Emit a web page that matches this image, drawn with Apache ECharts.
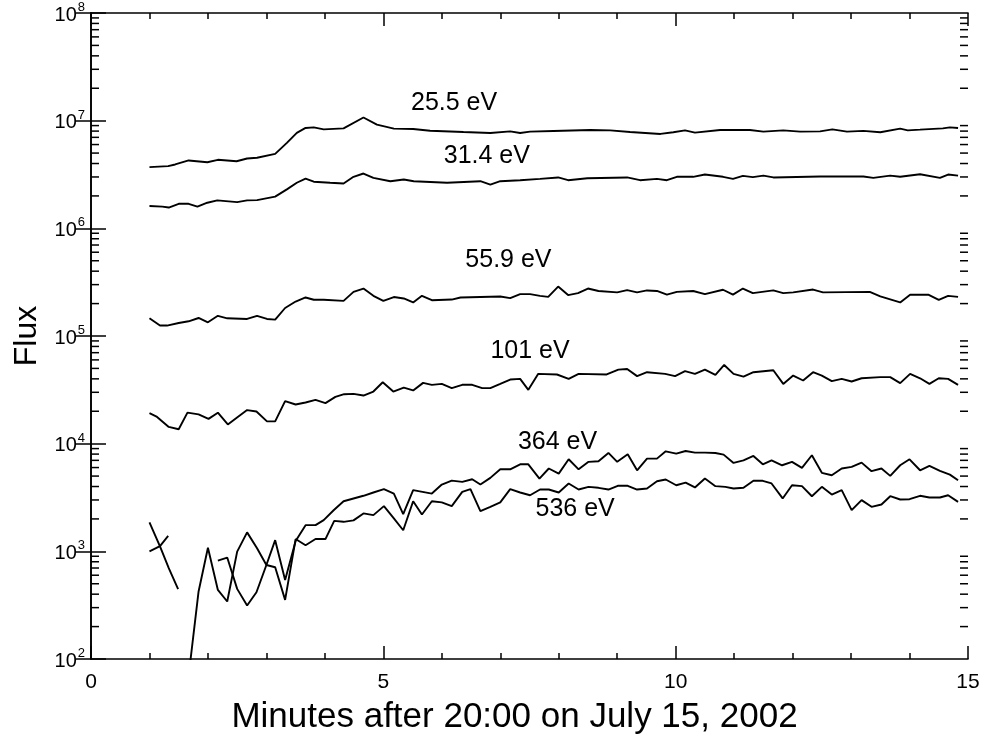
<!DOCTYPE html>
<html>
<head>
<meta charset="utf-8">
<script src="https://cdn.jsdelivr.net/npm/echarts@6/dist/echarts.min.js"></script>
<style>
html,body{margin:0;padding:0;background:#fff;}
#chart{width:984px;height:740px;}
</style>
</head>
<body>
<div id="chart"></div>
<script>
// Energy channels (labels) and their annotation anchors [minutes, flux]
const channelNames = ['25.5 eV', '31.4 eV', '55.9 eV', '101 eV', '364 eV', '536 eV'];
const labelAnchors = [[6.21, 1.47e7], [6.77, 4.67e6], [7.14, 5.08e5], [7.51, 7.21e4], [7.98, 1.04e4], [8.28, 2.47e3]];

// x tick labels / y decades
const xTicks = [0, 5, 10, 15];
const yDecades = [2, 3, 4, 5, 6, 7, 8];

// Series: [minutes after 20:00, flux]
const s25_5 = [[1.00,3.70e6],[1.32,3.78e6],[1.44,3.92e6],[1.67,4.27e6],[1.99,4.11e6],[2.17,4.33e6],[2.49,4.20e6],[2.67,4.45e6],[2.84,4.52e6],[3.15,4.92e6],[3.35,6.22e6],[3.52,7.70e6],[3.67,8.56e6],[3.81,8.67e6],[3.98,8.30e6],[4.32,8.48e6],[4.66,1.07e7],[4.89,9.19e6],[5.18,8.44e6],[5.51,8.38e6],[5.80,8.07e6],[6.37,7.85e6],[6.83,7.69e6],[7.17,7.96e6],[7.34,7.69e6],[7.51,7.91e6],[7.91,8.03e6],[8.54,8.20e6],[8.88,8.13e6],[9.22,7.85e6],[9.74,7.53e6],[9.96,7.80e6],[10.16,8.13e6],[10.33,7.74e6],[10.76,8.20e6],[11.27,8.20e6],[11.50,7.91e6],[11.84,8.13e6],[12.13,7.91e6],[12.47,7.96e6],[12.68,8.30e6],[12.93,7.91e6],[13.21,8.03e6],[13.50,7.80e6],[13.84,8.44e6],[13.97,8.13e6],[14.18,8.25e6],[14.57,8.48e6],[14.69,8.67e6],[14.83,8.56e6]];

const s31_4 = [[1.00,1.61e6],[1.22,1.59e6],[1.33,1.56e6],[1.50,1.69e6],[1.67,1.69e6],[1.82,1.59e6],[1.99,1.73e6],[2.16,1.82e6],[2.50,1.75e6],[2.67,1.82e6],[2.84,1.83e6],[3.15,1.97e6],[3.35,2.30e6],[3.52,2.65e6],[3.67,2.90e6],[3.81,2.71e6],[4.09,2.65e6],[4.32,2.61e6],[4.49,3.01e6],[4.66,3.23e6],[4.83,2.94e6],[5.12,2.74e6],[5.35,2.84e6],[5.52,2.74e6],[6.09,2.65e6],[6.66,2.74e6],[6.83,2.55e6],[7.00,2.74e6],[7.34,2.80e6],[7.68,2.88e6],[7.99,2.97e6],[8.16,2.80e6],[8.49,2.92e6],[9.17,2.97e6],[9.39,2.80e6],[9.68,2.88e6],[9.85,2.80e6],[10.02,3.01e6],[10.30,3.01e6],[10.50,3.16e6],[10.81,3.01e6],[10.98,2.88e6],[11.15,3.07e6],[11.32,2.99e6],[11.50,3.09e6],[11.67,2.97e6],[12.47,3.03e6],[13.21,3.03e6],[13.38,2.94e6],[13.67,3.09e6],[13.84,3.01e6],[14.18,3.18e6],[14.52,2.94e6],[14.66,3.16e6],[14.83,3.09e6]];

const s55_9 = [[1.00,1.46e5],[1.18,1.25e5],[1.30,1.25e5],[1.50,1.32e5],[1.67,1.37e5],[1.84,1.47e5],[2.00,1.34e5],[2.17,1.54e5],[2.33,1.46e5],[2.67,1.44e5],[2.84,1.54e5],[3.01,1.44e5],[3.15,1.42e5],[3.32,1.82e5],[3.50,2.09e5],[3.67,2.28e5],[3.81,2.17e5],[3.98,2.17e5],[4.32,2.12e5],[4.49,2.57e5],[4.66,2.76e5],[4.83,2.36e5],[5.00,2.12e5],[5.18,2.30e5],[5.35,2.23e5],[5.51,2.05e5],[5.66,2.36e5],[5.83,2.15e5],[6.17,2.18e5],[6.32,2.28e5],[7.00,2.33e5],[7.17,2.25e5],[7.34,2.45e5],[7.51,2.45e5],[7.68,2.36e5],[7.82,2.31e5],[7.99,2.88e5],[8.16,2.40e5],[8.33,2.50e5],[8.50,2.76e5],[8.68,2.62e5],[9.00,2.54e5],[9.17,2.67e5],[9.34,2.54e5],[9.51,2.65e5],[9.68,2.62e5],[9.85,2.42e5],[10.02,2.57e5],[10.30,2.62e5],[10.50,2.45e5],[10.81,2.69e5],[10.98,2.42e5],[11.15,2.76e5],[11.32,2.50e5],[11.67,2.65e5],[11.84,2.50e5],[12.01,2.54e5],[12.35,2.70e5],[12.52,2.54e5],[13.32,2.57e5],[13.50,2.33e5],[13.84,2.05e5],[14.01,2.42e5],[14.32,2.42e5],[14.50,2.17e5],[14.66,2.36e5],[14.83,2.31e5]];

const s101 = [[1.00,1.92e4],[1.13,1.77e4],[1.33,1.43e4],[1.50,1.36e4],[1.65,1.94e4],[1.84,1.87e4],[2.01,1.70e4],[2.17,1.94e4],[2.34,1.51e4],[2.51,1.77e4],[2.67,2.05e4],[2.83,1.99e4],[3.01,1.61e4],[3.15,1.61e4],[3.32,2.48e4],[3.50,2.31e4],[3.67,2.41e4],[3.84,2.55e4],[4.01,2.38e4],[4.18,2.72e4],[4.33,2.88e4],[4.49,2.90e4],[4.66,2.80e4],[4.83,3.05e4],[4.99,3.72e4],[5.17,3.05e4],[5.35,3.32e4],[5.51,3.12e4],[5.68,3.67e4],[5.83,3.52e4],[6.00,3.59e4],[6.17,3.28e4],[6.35,3.52e4],[6.52,3.52e4],[6.69,3.28e4],[6.83,3.28e4],[7.00,3.59e4],[7.17,3.94e4],[7.34,4.00e4],[7.48,3.16e4],[7.65,4.45e4],[7.97,4.39e4],[8.17,4.00e4],[8.34,4.45e4],[8.82,4.39e4],[9.02,4.87e4],[9.17,4.94e4],[9.34,4.24e4],[9.51,4.61e4],[9.82,4.45e4],[9.99,4.24e4],[10.16,4.71e4],[10.33,4.45e4],[10.50,4.87e4],[10.68,4.35e4],[10.83,5.38e4],[10.99,4.45e4],[11.16,4.20e4],[11.33,4.61e4],[11.67,4.81e4],[11.84,3.59e4],[12.01,4.29e4],[12.18,3.86e4],[12.35,4.61e4],[12.50,4.29e4],[12.67,3.81e4],[12.84,4.00e4],[13.01,3.78e4],[13.18,4.05e4],[13.50,4.15e4],[13.67,4.15e4],[13.84,3.65e4],[14.01,4.45e4],[14.18,4.05e4],[14.34,3.59e4],[14.50,4.05e4],[14.66,4.00e4],[14.83,3.52e4]];

const s364 = [[1.00,1.00e3],[1.18,1.12e3],[1.32,1.39e3],[1.50,null],[1.67,70],[1.84,424],[2.00,1.08e3],[2.17,438],[2.33,342],[2.50,993],[2.67,1.50e3],[2.84,1.07e3],[3.00,747],[3.15,1.27e3],[3.32,542],[3.50,1.25e3],[3.67,1.75e3],[3.84,1.75e3],[3.98,1.95e3],[4.15,2.41e3],[4.32,2.92e3],[4.66,3.28e3],[4.83,3.52e3],[5.01,3.78e3],[5.18,3.44e3],[5.34,2.22e3],[5.51,3.70e3],[5.83,3.44e3],[6.00,4.17e3],[6.17,4.54e3],[6.35,4.42e3],[6.52,4.67e3],[6.66,4.17e3],[6.83,4.81e3],[7.00,5.78e3],[7.17,5.78e3],[7.34,6.43e3],[7.48,6.43e3],[7.67,4.74e3],[7.83,5.88e3],[8.00,5.27e3],[8.17,7.16e3],[8.34,5.78e3],[8.51,6.78e3],[8.68,6.86e3],[8.85,8.20e3],[9.00,6.78e3],[9.18,7.96e3],[9.34,5.66e3],[9.51,7.26e3],[9.68,7.26e3],[9.83,8.49e3],[10.01,8.07e3],[10.17,8.55e3],[10.33,8.26e3],[10.50,8.26e3],[10.68,8.20e3],[10.82,7.91e3],[10.99,6.62e3],[11.16,7.00e3],[11.33,7.69e3],[11.49,6.43e3],[11.64,7.00e3],[11.82,6.30e3],[11.99,6.78e3],[12.16,5.96e3],[12.33,7.80e3],[12.50,5.36e3],[12.67,5.09e3],[12.84,5.88e3],[13.01,6.08e3],[13.18,6.67e3],[13.35,5.55e3],[13.52,5.88e3],[13.67,5.02e3],[13.84,6.30e3],[14.00,7.16e3],[14.18,5.66e3],[14.34,6.21e3],[14.52,5.59e3],[14.69,5.16e3],[14.83,4.57e3]];

const s536 = [[1.00,1.86e3],[1.18,1.11e3],[1.33,697],[1.49,445],[1.67,null],[1.84,null],[2.00,null],[2.17,820],[2.33,875],[2.50,448],[2.67,314],[2.83,417],[3.00,747],[3.15,711],[3.32,354],[3.50,1.30e3],[3.67,1.14e3],[3.84,1.30e3],[4.01,1.30e3],[4.16,1.92e3],[4.32,1.88e3],[4.49,1.94e3],[4.66,2.25e3],[4.83,2.17e3],[5.01,2.63e3],[5.18,2.02e3],[5.34,1.57e3],[5.51,2.92e3],[5.66,2.20e3],[5.83,2.92e3],[6.00,2.85e3],[6.17,2.63e3],[6.35,3.57e3],[6.49,3.78e3],[6.66,2.36e3],[6.83,2.59e3],[7.00,2.85e3],[7.17,3.78e3],[7.34,3.52e3],[7.51,3.32e3],[7.68,3.75e3],[7.83,3.75e3],[8.00,3.52e3],[8.17,4.27e3],[8.34,3.75e3],[8.51,3.97e3],[8.68,3.89e3],[8.85,3.75e3],[9.01,4.06e3],[9.18,4.06e3],[9.34,3.75e3],[9.51,3.83e3],[9.68,4.48e3],[9.83,4.65e3],[10.01,4.11e3],[10.17,4.35e3],[10.33,3.92e3],[10.50,4.74e3],[10.68,4.03e3],[10.85,3.97e3],[10.99,3.83e3],[11.16,3.89e3],[11.33,4.52e3],[11.49,4.52e3],[11.64,4.27e3],[11.83,3.10e3],[11.99,4.11e3],[12.16,4.03e3],[12.33,3.25e3],[12.50,3.97e3],[12.67,3.37e3],[12.84,3.70e3],[13.01,2.41e3],[13.18,2.99e3],[13.35,2.59e3],[13.52,2.72e3],[13.67,3.25e3],[13.84,3.03e3],[14.00,3.05e3],[14.18,3.28e3],[14.34,3.16e3],[14.52,3.16e3],[14.66,3.32e3],[14.83,2.88e3]];

const allSeries = [s25_5, s31_4, s55_9, s101, s364, s536];

const FONT = '"Liberation Sans", Arial, Helvetica, sans-serif';
const chart = echarts.init(document.getElementById('chart'), null, {renderer: 'canvas'});

// minor log ticks (2..9 x 10^n) for the y axes
const minorVals = [];
for (let i = 0; i < yDecades.length - 1; i++) {
  for (let k = 2; k <= 9; k++) minorVals.push([0, k * Math.pow(10, yDecades[i])]);
}

const lineSeries = allSeries.map((d, i) => ({
  type: 'line',
  name: channelNames[i],
  data: d,
  showSymbol: false,
  symbol: 'none',
  connectNulls: false,
  clip: true,
  lineStyle: {color: '#000', width: 1.9},
  z: 3,
  markPoint: {
    symbol: 'circle',
    symbolSize: 0,
    silent: true,
    label: {show: true, position: 'inside', color: '#000', fontSize: 25, fontFamily: FONT, formatter: channelNames[i]},
    data: [{coord: labelAnchors[i]}]
  }
}));

const minorTickSeries = {
  type: 'custom',
  xAxisIndex: 0,
  yAxisIndex: 0,
  clip: false,
  silent: true,
  data: minorVals,
  z: 5,
  renderItem: function (params, api) {
    const v = api.value(1);
    const pl = api.coord([xTicks[0], v]);
    const pr = api.coord([xTicks[xTicks.length - 1], v]);
    const style = {stroke: '#000', lineWidth: 1.5};
    return {
      type: 'group',
      children: [
        {type: 'line', shape: {x1: pl[0], y1: pl[1], x2: pl[0] + 8, y2: pl[1]}, style: style},
        {type: 'line', shape: {x1: pr[0], y1: pr[1], x2: pr[0] - 8, y2: pr[1]}, style: style}
      ]
    };
  }
};

const xCommon = {
  type: 'value',
  min: xTicks[0],
  max: xTicks[xTicks.length - 1],
  interval: 5,
  splitLine: {show: false},
  axisLine: {show: true, lineStyle: {color: '#000', width: 1.6}},
  axisTick: {show: true, inside: true, length: 13, lineStyle: {color: '#000', width: 1.5}},
  minorTick: {show: true, splitNumber: 5, length: 6, lineStyle: {color: '#000', width: 1.5}},
  minorSplitLine: {show: false}
};

const yCommon = {
  type: 'log',
  logBase: 10,
  min: Math.pow(10, yDecades[0]),
  max: Math.pow(10, yDecades[yDecades.length - 1]),
  interval: 1,
  splitLine: {show: false},
  axisLine: {show: true, lineStyle: {color: '#000', width: 1.6}},
  axisTick: {show: true, inside: true, length: 15, lineStyle: {color: '#000', width: 1.5}},
  minorTick: {show: false},
  minorSplitLine: {show: false}
};

const option = {
  animation: false,
  backgroundColor: '#fff',
  grid: {left: 91, right: 16, top: 13, bottom: 79, containLabel: false},
  xAxis: [
    Object.assign({}, xCommon, {
      position: 'bottom',
      axisLabel: {color: '#000', fontSize: 21, fontFamily: FONT, margin: 13},
      name: 'Minutes after 20:00 on July 15, 2002',
      nameLocation: 'middle',
      nameGap: 41,
      nameTextStyle: {color: '#000', fontSize: 35, fontFamily: FONT, verticalAlign: 'top', padding: [0, 30, 0, 0]}
    }),
    Object.assign({}, xCommon, {position: 'top', axisLabel: {show: false}})
  ],
  yAxis: [
    Object.assign({}, yCommon, {
      position: 'left',
      axisLabel: {
        color: '#000', fontFamily: FONT, margin: 6,
        formatter: function (v) { return '{b|10}{s|' + Math.round(Math.log10(v)) + '}'; },
        rich: {
          b: {fontSize: 20, fontFamily: FONT, color: '#000', lineHeight: 24, verticalAlign: 'bottom'},
          s: {fontSize: 13, fontFamily: FONT, color: '#000', lineHeight: 24, verticalAlign: 'top', padding: [0, 0, 11, 1]}
        }
      },
      name: 'Flux',
      nameLocation: 'middle',
      nameGap: 40,
      nameRotate: 90,
      nameTextStyle: {color: '#000', fontSize: 32, fontFamily: FONT}
    }),
    Object.assign({}, yCommon, {position: 'right', axisLabel: {show: false}})
  ],
  series: lineSeries.concat([minorTickSeries])
};

chart.setOption(option);
</script>
</body>
</html>
